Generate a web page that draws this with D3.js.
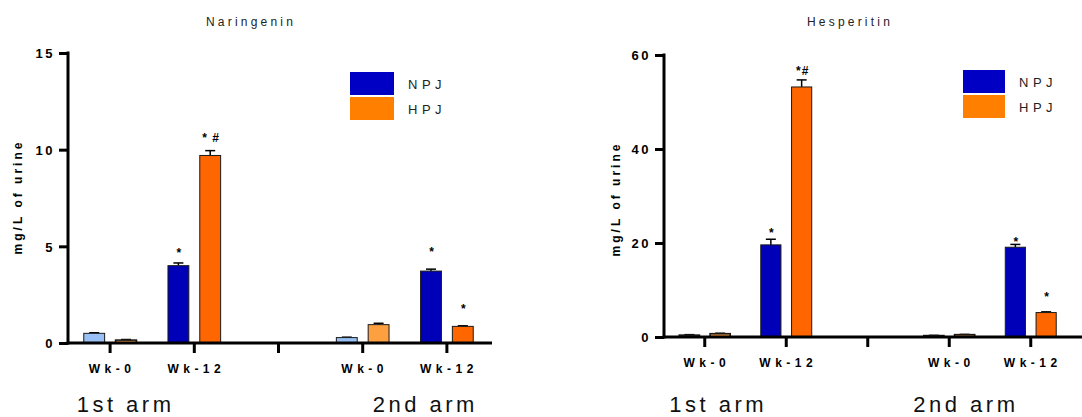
<!DOCTYPE html>
<meta charset="utf-8">
<style>
    body {
        margin: 0;
        padding: 0;
        background: #fff;
        font-family: "Liberation Sans", Arial, sans-serif;
    }
    svg {
        display: block;
    }
    .bar {
        stroke: #1a1a1a;
        stroke-width: 1;
    }
    .err line {
        stroke: #000;
        stroke-width: 1.5;
    }
</style>
<svg width="1082" height="417"></svg>
<script src="https://cdn.jsdelivr.net/npm/d3@7"></script>
<script>
    // bands on the x axis: the empty one separates the two arms
    var weeks = ["Wk-0", "Wk-12", "", "Wk-0", "Wk-12"];
    var series = ["NPJ", "HPJ"];
    var arms = ["1st arm", "2nd arm"];

    var naringeninNPJ = [0.5, 4.0, null, 0.28, 3.72];
    var naringeninHPJ = [0.15, 9.7, null, 0.95, 0.86];
    var naringeninNPJErr = [0.03, 0.14, null, 0.02, 0.1];
    var naringeninHPJErr = [0.03, 0.25, null, 0.07, 0.03];
    var naringeninNPJMarks = ["", "*", "", "", "*"];
    var naringeninHPJMarks = ["", "* #", "", "", "*"];
    var naringeninNPJMarkAt = [null, 4.47, null, null, 4.51];
    var naringeninHPJMarkAt = [null, 10.4, null, null, 1.53];

    var hesperitinNPJ = [0.4, 19.6, null, 0.3, 19.1];
    var hesperitinHPJ = [0.7, 53.2, null, 0.5, 5.2];
    var hesperitinNPJErr = [0.1, 1.2, null, 0.05, 0.6];
    var hesperitinHPJErr = [0.1, 1.5, null, 0.05, 0.15];
    var hesperitinNPJMarks = ["", "*", "", "", "*"];
    var hesperitinHPJMarks = ["", "*#", "", "", "*"];
    var hesperitinNPJMarkAt = [null, 21.2, null, null, 19.4];
    var hesperitinHPJMarkAt = [null, 55.7, null, null, 7.7];

    var naringeninTicks = [0, 5, 10, 15];
    var hesperitinTicks = [0, 20, 40, 60];

    var yLabel = "mg/L of urine";

    var colors = {
        NPJ: { "Wk-0": "#99c0f4", "Wk-12": "#0000b8" },
        HPJ: { "Wk-0": "#ffa040", "Wk-12": "#ff6600" }
    };
    var legendColors = { NPJ: "#0000c4", HPJ: "#ff8000" };

    var charts = [{
        title: "Naringenin",
        npj: naringeninNPJ, hpj: naringeninHPJ,
        npjErr: naringeninNPJErr, hpjErr: naringeninHPJErr,
        npjMarks: naringeninNPJMarks, hpjMarks: naringeninHPJMarks,
        npjMarkAt: naringeninNPJMarkAt, hpjMarkAt: naringeninHPJMarkAt,
        ticks: naringeninTicks,
        x0: 68, x1: 489, axisEnd: 492, y0: 343, y1: 53,
        titleX: 251, legendX: 350, legendY: 72, legendW: 44, legendH: 23,
        labelX: 22, labelY: 197, armAt: [0.66, 4.22]
    }, {
        title: "Hesperitin",
        npj: hesperitinNPJ, hpj: hesperitinHPJ,
        npjErr: hesperitinNPJErr, hpjErr: hesperitinHPJErr,
        npjMarks: hesperitinNPJMarks, hpjMarks: hesperitinHPJMarks,
        npjMarkAt: hesperitinNPJMarkAt, hpjMarkAt: hesperitinHPJMarkAt,
        ticks: hesperitinTicks,
        x0: 664, x1: 1071.5, axisEnd: 1090, y0: 337, y1: 55,
        titleX: 850, legendX: 963, legendY: 70, legendW: 42, legendH: 23,
        labelX: 620, labelY: 199, armAt: [0.64, 3.68]
    }];

    var svg = d3.select("svg");

    charts.forEach(drawChart);

    function drawChart(c) {
        var g = svg.append("g");

        var x = d3.scaleBand().domain(d3.range(weeks.length)).range([c.x0, c.x1]).padding(0);
        var xs = d3.scaleBand().domain(series).range([0, x.bandwidth()])
            .paddingInner(0.3125).paddingOuter(0.48);
        var y = d3.scaleLinear().domain([0, d3.max(c.ticks)]).range([c.y0, c.y1]);

        // title
        g.append("text")
            .attr("x", c.titleX).attr("y", 26)
            .attr("text-anchor", "middle")
            .style("font-size", "12px")
            .style("letter-spacing", "3.2px")
            .style("fill", "#222")
            .text(c.title);

        // y axis
        var yAxis = d3.axisLeft(y).tickValues(c.ticks).tickSize(9).tickPadding(4).tickSizeOuter(0);
        var ya = g.append("g").attr("transform", "translate(" + c.x0 + ",0)").call(yAxis);
        ya.select(".domain").attr("stroke", "#000").attr("stroke-width", 3)
            .attr("d", "M0," + (c.y0 + 1.5) + "V" + (c.y1 - 1.5));
        ya.selectAll(".tick line").attr("stroke", "#000").attr("stroke-width", 3);
        ya.selectAll(".tick text")
            .attr("dy", "0.36em")
            .style("font-family", "'Liberation Sans', Arial, sans-serif")
            .style("font-size", "13px")
            .style("font-weight", "bold")
            .style("letter-spacing", "2.5px")
            .style("fill", "#000");

        // y label
        g.append("text")
            .attr("transform", "translate(" + c.labelX + "," + c.labelY + ") rotate(-90)")
            .attr("text-anchor", "middle")
            .style("font-size", "12px")
            .style("font-weight", "bold")
            .style("letter-spacing", "3px")
            .text(yLabel);

        // bars
        var rows = [];
        weeks.forEach(function(w, i) {
            if (c.npj[i] == null) return;
            rows.push({ i: i, s: "NPJ", week: w, v: c.npj[i], e: c.npjErr[i], m: c.npjMarks[i], mAt: c.npjMarkAt[i] });
            rows.push({ i: i, s: "HPJ", week: w, v: c.hpj[i], e: c.hpjErr[i], m: c.hpjMarks[i], mAt: c.hpjMarkAt[i] });
        });

        var bx = function(d) { return x(d.i) + xs(d.s); };

        var errG = g.append("g").attr("class", "err");
        rows.forEach(function(d) {
            var cx = bx(d) + xs.bandwidth() / 2;
            errG.append("line").attr("x1", cx).attr("x2", cx).attr("y1", y(d.v)).attr("y2", y(d.v + d.e));
            errG.append("line").attr("x1", cx - 5).attr("x2", cx + 5).attr("y1", y(d.v + d.e)).attr("y2", y(d.v + d.e));
        });

        g.append("g").selectAll("rect")
            .data(rows)
            .enter().append("rect")
            .attr("class", "bar")
            .attr("x", function(d) { return bx(d) + 0.5; })
            .attr("width", xs.bandwidth() - 1)
            .attr("y", function(d) { return y(d.v); })
            .attr("height", function(d) { return y(0) - y(d.v); })
            .attr("fill", function(d) { return colors[d.s][d.week]; })
            .style("stroke-width", function(d) { return y(0) - y(d.v) < 5 ? 1.6 : 1; });

        // significance marks
        g.append("g").selectAll("text")
            .data(rows.filter(function(d) { return d.m; }))
            .enter().append("text")
            .attr("x", function(d) { return bx(d) + xs.bandwidth() / 2 + 1; })
            .attr("y", function(d) { return y(d.mAt); })
            .attr("text-anchor", "middle")
            .style("font-size", "12px")
            .style("font-weight", "bold")
            .style("letter-spacing", "1px")
            .text(function(d) { return d.m; });

        // x axis
        g.append("line")
            .attr("x1", c.x0 - 1.5).attr("x2", c.axisEnd)
            .attr("y1", c.y0).attr("y2", c.y0)
            .attr("stroke", "#000").attr("stroke-width", 3);

        g.append("g").selectAll("line")
            .data(weeks.map(function(w, i) { return i; }))
            .enter().append("line")
            .attr("x1", function(i) { return x(i) + x.bandwidth() / 2; })
            .attr("x2", function(i) { return x(i) + x.bandwidth() / 2; })
            .attr("y1", c.y0).attr("y2", c.y0 + 10)
            .attr("stroke", "#000").attr("stroke-width", 3);

        g.append("g").selectAll("text")
            .data(weeks.map(function(w, i) { return { w: w, i: i }; }).filter(function(d) { return d.w; }))
            .enter().append("text")
            .attr("x", function(d) { return x(d.i) + x.bandwidth() / 2 + 2; })
            .attr("y", c.y0 + 30)
            .attr("text-anchor", "middle")
            .style("font-size", "12px")
            .style("font-weight", "bold")
            .style("letter-spacing", "4.5px")
            .text(function(d) { return d.w; });

        // arm labels
        g.append("g").selectAll("text")
            .data(arms)
            .enter().append("text")
            .attr("x", function(d, k) { return c.x0 + c.armAt[k] * x.step() + 2; })
            .attr("y", 412)
            .attr("text-anchor", "middle")
            .style("font-size", "22px")
            .style("letter-spacing", "3.5px")
            .style("fill", "#111")
            .text(function(d) { return d; });

        // legend
        var lg = g.append("g").attr("transform", "translate(" + c.legendX + "," + c.legendY + ")");
        series.forEach(function(s, k) {
            lg.append("rect")
                .attr("x", 0).attr("y", k * (c.legendH + 2))
                .attr("width", c.legendW).attr("height", c.legendH)
                .attr("fill", legendColors[s]);
            lg.append("text")
                .attr("x", c.legendW + 14).attr("y", k * (c.legendH + 2) + c.legendH / 2 + 1)
                .attr("dy", "0.36em")
                .style("font-size", "13px")
                .style("letter-spacing", "4.5px")
                .style("fill", "#222")
                .text(s);
        });
    }
</script>
